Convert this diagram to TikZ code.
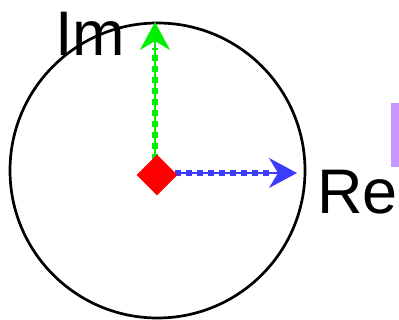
\documentclass[tikz,border=0pt]{standalone}
\usepackage{fontspec}
\setmainfont{Liberation Sans}
\usetikzlibrary{shapes.geometric,arrows.meta}
\definecolor{lime}{RGB}{0,240,0}
\definecolor{bluev}{RGB}{60,60,255}
\definecolor{purp}{RGB}{200,150,255}
\tikzset{
  vec/.style={line width=2pt,-{Stealth[length=28pt,width=30pt,inset=9pt]}},
  vecdash/.style={line width=6pt,dash pattern=on 6pt off 5pt},
  lbl/.style={font=\fontsize{63}{63}\selectfont,inner sep=0pt,anchor=base west}
}
\begin{document}
\begin{tikzpicture}[x=1pt,y=-1pt]
\useasboundingbox (0,0) rectangle (399,320);
\node[draw=black,line width=2.7pt,circle,minimum size=295pt,inner sep=0pt] (circ) at (157.5,170.5) {};
\fill[purp] (391,103) rectangle (399,167);
\coordinate (gs) at (155,160);
\coordinate (ge) at (155,22);
\coordinate (bs) at (175,173);
\coordinate (be) at (297,173);
\draw[vec,draw=lime,fill=lime] (gs) -- (ge);
\draw[vecdash,draw=lime] (gs) -- (155,48);
\draw[vec,draw=bluev,fill=bluev] (bs) -- (be);
\draw[vecdash,draw=bluev] (bs) -- (270,173);
\node[diamond,fill=red,minimum size=41pt,inner sep=0pt] (d) at (157,175) {};
\node[lbl] (im) at (55,56) {Im};
\node[lbl] (re) at (317,214) {Re};
\end{tikzpicture}
\end{document}
